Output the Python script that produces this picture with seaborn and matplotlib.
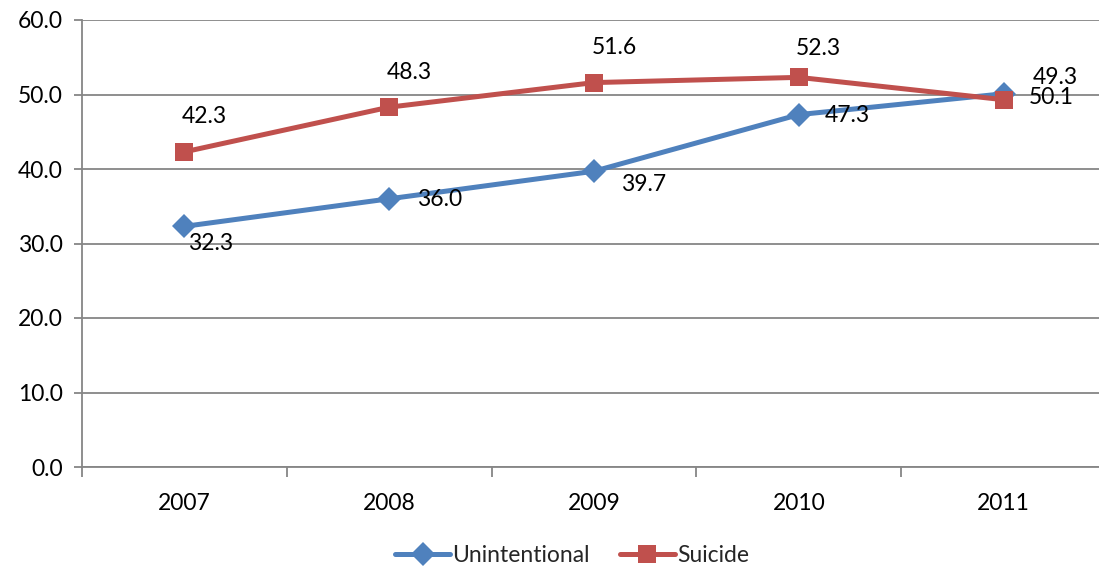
import matplotlib
matplotlib.use("Agg")
import matplotlib.pyplot as plt
import seaborn as sns
import pandas as pd

years = ["2007", "2008", "2009", "2010", "2011"]
unintentional = [32.3, 36.0, 39.7, 47.3, 50.1]
suicide = [42.3, 48.3, 51.6, 52.3, 49.3]
y_ticks = [0, 10, 20, 30, 40, 50, 60]

# label offsets in pixels (dx, dy) relative to each point
unint_offsets = [(26, -17), (50, -1), (50, -13), (48, -1), (48, -4)]
suic_offsets = [(20, 35), (20, 35), (20, 35), (20, 29), (52, 22)]

BLUE = "#4F81BD"
RED = "#C0504D"
GRID = "#868686"
FS = 16.5

sns.set_theme(style="white")
plt.rcParams["font.family"] = ["Lato", "DejaVu Sans"]

df = pd.DataFrame({
    "x": list(range(len(years))) * 2,
    "value": unintentional + suicide,
    "series": ["Unintentional"] * len(years) + ["Suicide"] * len(years),
})

fig = plt.figure(figsize=(10.99, 5.69), dpi=100)
W, H = 1099, 569
left, right, top, bottom = 82, 1106, 20, 467
ax = fig.add_axes([left / W, 1 - bottom / H, (right - left) / W, (bottom - top) / H])

sns.lineplot(
    data=df, x="x", y="value", hue="series", style="series",
    palette={"Unintentional": BLUE, "Suicide": RED},
    markers={"Unintentional": "D", "Suicide": "s"},
    dashes=False, linewidth=3.6, markersize=12.5, markeredgewidth=0,
    ax=ax, legend=True,
)

ax.set_xlim(-0.5, len(years) - 0.5)
ax.set_ylim(0, 60)
ax.set_yticks(y_ticks)
ax.set_yticklabels([f"{v:.1f}" for v in y_ticks])
ax.set_xticks(range(len(years)))
ax.set_xticklabels(years)
ax.set_xticks([i + 0.5 for i in range(len(years) - 1)] + [-0.5], minor=True)
ax.set_xlabel("")
ax.set_ylabel("")

ax.yaxis.grid(True, color=GRID, linewidth=1.3)
ax.set_axisbelow(True)
for side in ["top", "right"]:
    ax.spines[side].set_visible(False)
for side in ["left", "bottom"]:
    ax.spines[side].set_color(GRID)
    ax.spines[side].set_linewidth(1.3)

ax.tick_params(axis="y", which="major", left=True, length=6, width=1.3,
               color=GRID, labelsize=FS, pad=8, labelcolor="black")
ax.tick_params(axis="x", which="major", bottom=False, labelsize=FS,
               pad=13, labelcolor="black")
ax.tick_params(axis="x", which="minor", bottom=True, length=7, width=1.3,
               color=GRID)

for i, v in enumerate(unintentional):
    dx, dy = unint_offsets[i]
    ax.annotate(f"{v:.1f}", (i, v), xytext=(dx, dy), textcoords="offset pixels",
                ha="center", va="center", fontsize=FS, color="black")
for i, v in enumerate(suicide):
    dx, dy = suic_offsets[i]
    ax.annotate(f"{v:.1f}", (i, v), xytext=(dx, dy), textcoords="offset pixels",
                ha="center", va="center", fontsize=FS, color="black")

handles, labels = ax.get_legend_handles_labels()
ax.legend(handles, labels, loc="center", bbox_to_anchor=(572 / W, 1 - 556 / H),
          bbox_transform=fig.transFigure, ncol=2, frameon=False, fontsize=FS,
          handlelength=2.4, columnspacing=1.3, handletextpad=0.1)

fig.savefig("out.png", dpi=100)
